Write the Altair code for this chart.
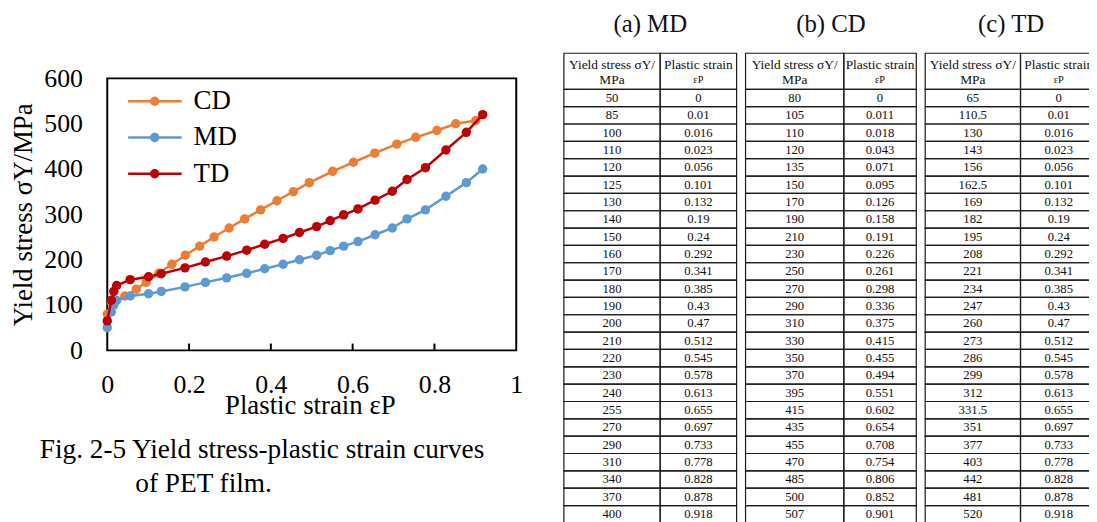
import altair as alt
import pandas as pd

# ---------------- data ----------------
SERIES = ["CD", "MD", "TD"]
COLORS = ["#ED7D31", "#5B9BD5", "#C00000"]

MD_STRESS = [50, 85, 100, 110, 120, 125, 130, 140, 150, 160, 170, 180, 190, 200,
             210, 220, 230, 240, 255, 270, 290, 310, 340, 370, 400]
MD_STRAIN = [0, 0.01, 0.016, 0.023, 0.056, 0.101, 0.132, 0.19, 0.24, 0.292, 0.341,
             0.385, 0.43, 0.47, 0.512, 0.545, 0.578, 0.613, 0.655, 0.697, 0.733,
             0.778, 0.828, 0.878, 0.918]
CD_STRESS = [80, 105, 110, 120, 135, 150, 170, 190, 210, 230, 250, 270, 290, 310,
             330, 350, 370, 395, 415, 435, 455, 470, 485, 500, 507]
CD_STRAIN = [0, 0.011, 0.018, 0.043, 0.071, 0.095, 0.126, 0.158, 0.191, 0.226, 0.261,
             0.298, 0.336, 0.375, 0.415, 0.455, 0.494, 0.551, 0.602, 0.654, 0.708,
             0.754, 0.806, 0.852, 0.901]
TD_STRESS = [65, 110.5, 130, 143, 156, 162.5, 169, 182, 195, 208, 221, 234, 247, 260,
             273, 286, 299, 312, 331.5, 351, 377, 403, 442, 481, 520]
TD_STRAIN = [0, 0.01, 0.016, 0.023, 0.056, 0.101, 0.132, 0.19, 0.24, 0.292, 0.341,
             0.385, 0.43, 0.47, 0.512, 0.545, 0.578, 0.613, 0.655, 0.697, 0.733,
             0.778, 0.828, 0.878, 0.918]

X_TICKS = [0, 0.2, 0.4, 0.6, 0.8, 1]
Y_TICKS = [0, 100, 200, 300, 400, 500, 600]
INNER_TICKS = [0.2, 0.4, 0.6, 0.8]

TABLE_TITLES = ["(a) MD", "(b) CD", "(c) TD"]
HEADER_LEFT = ["Yield stress σY/", "MPa"]
HEADER_RIGHT = ["Plastic strain", "εP"]

X_TITLE = "Plastic strain εP"
Y_TITLE = "Yield stress σY/MPa"
INDENT = "\u200b" + "\u00a0" * 14
CAPTION = ["Fig. 2-5 Yield stress-plastic strain curves",
           INDENT + "of PET film."]

# ---------------- layout constants (px) ----------------
FONT = "Liberation Serif"
PAGE = 8
PLOT_LEFT, PLOT_TOP = 108, 77
PLOT_W, PLOT_H = 412, 274
PAD_L, PAD_T = PLOT_LEFT - PAGE, PLOT_TOP - PAGE
PAD_R, PAD_B = 577, 171

TICK_LEN = 15  # in stress units (~7px)

# legend placement (data units)
LEG_X0, LEG_X1, LEG_XC, LEG_XT = 0.051, 0.182, 0.116, 0.211
LEG_Y0, LEG_DY = 549.6, 80.0

# tables
T_LEFT = [568, 751, 932]
T_MID = [665, 850, 1028]
T_RIGHT = [742, 923, 1105]
T_TOP = 51.7
ROW = 17.47
HDR = 2.08
T_TITLE_Y = -1.7
H_LINE1, H_LINE2 = 0.66, 1.52

# ---------------- main chart ----------------
rows = []
for name, xs, ys in [("CD", CD_STRAIN, CD_STRESS), ("MD", MD_STRAIN, MD_STRESS),
                     ("TD", TD_STRAIN, TD_STRESS)]:
    for i, (x, y) in enumerate(zip(xs, ys)):
        rows.append({"series": name, "strain": x, "stress": y, "idx": i})
df = pd.DataFrame(rows)

xsc = alt.Scale(domain=[0, 1], nice=False)
ysc = alt.Scale(domain=[0, 600], nice=False)
csc = alt.Scale(domain=SERIES, range=COLORS)

x_axis = alt.Axis(values=X_TICKS, format="~g", ticks=False, domain=False, grid=False,
                  labelFont=FONT, labelFontSize=26, labelColor="black", labelPadding=21,
                  labelFlush=False, title=X_TITLE, titleFont=FONT, titleFontSize=27,
                  titleFontWeight="normal", titleColor="black",
                  titleBaseline="alphabetic", titleY=64, titleX=PLOT_W / 2 - 2)
y_axis = alt.Axis(values=Y_TICKS, ticks=False, domain=False, grid=False,
                  labelFont=FONT, labelFontSize=26, labelColor="black", labelPadding=25,
                  labelFlush=False, title=Y_TITLE, titleFont=FONT, titleFontSize=27,
                  titleFontWeight="normal", titleColor="black", titleAngle=270,
                  titleBaseline="alphabetic", titleAlign="center",
                  titleX=-76, titleY=PLOT_H / 2)

layers = []
for name in SERIES:
    b = alt.Chart(df).transform_filter(alt.datum.series == name)
    enc = dict(x=alt.X("strain:Q", scale=xsc, axis=x_axis),
               y=alt.Y("stress:Q", scale=ysc, axis=y_axis),
               color=alt.Color("series:N", scale=csc, legend=None))
    layers.append(b.mark_line(strokeWidth=2.5).encode(order="idx:Q", **enc))
    layers.append(b.mark_point(filled=True, size=90, opacity=1).encode(**enc))

# inner tick marks on x axis
tick_df = pd.DataFrame({"v": INNER_TICKS, "y0": [0] * len(INNER_TICKS),
                        "y1": [TICK_LEN] * len(INNER_TICKS)})
ticks = alt.Chart(tick_df).mark_rule(color="black", strokeWidth=2).encode(
    x=alt.X("v:Q", scale=xsc, axis=x_axis),
    y=alt.Y("y0:Q", scale=ysc, axis=y_axis),
    y2="y1:Q",
)

# custom legend
leg_df = pd.DataFrame({
    "series": SERIES,
    "x0": [LEG_X0] * 3, "x1": [LEG_X1] * 3, "xc": [LEG_XC] * 3, "xt": [LEG_XT] * 3,
    "y": [LEG_Y0 - i * LEG_DY for i in range(3)],
})
lb = alt.Chart(leg_df)
leg_line = lb.mark_rule(strokeWidth=2.5).encode(
    x=alt.X("x0:Q", scale=xsc, axis=x_axis), x2="x1:Q",
    y=alt.Y("y:Q", scale=ysc, axis=y_axis),
    color=alt.Color("series:N", scale=csc, legend=None))
leg_pt = lb.mark_point(filled=True, size=90, opacity=1).encode(
    x=alt.X("xc:Q", scale=xsc, axis=x_axis),
    y=alt.Y("y:Q", scale=ysc, axis=y_axis),
    color=alt.Color("series:N", scale=csc, legend=None))
leg_txt = lb.mark_text(font=FONT, fontSize=27, align="left", baseline="middle",
                       color="black").encode(
    x=alt.X("xt:Q", scale=xsc, axis=x_axis),
    y=alt.Y("y:Q", scale=ysc, axis=y_axis),
    text="series:N")

main = alt.layer(*layers, ticks, leg_line, leg_pt, leg_txt)


# ---------------- tables ----------------
def fmt(v):
    return f"{v:g}"


def make_table(k, stress, strain):
    left, mid, right = T_LEFT[k], T_MID[k], T_RIGHT[k]
    split = (mid - left) / (right - left)
    cells = [{"x0": 0, "x1": split, "y0": 0, "y1": HDR},
             {"x0": split, "x1": 1, "y0": 0, "y1": HDR}]
    body = []
    for i, (s, e) in enumerate(zip(stress, strain)):
        y0 = HDR + i
        cells.append({"x0": 0, "x1": split, "y0": y0, "y1": y0 + 1})
        cells.append({"x0": split, "x1": 1, "y0": y0, "y1": y0 + 1})
        body.append({"x": split / 2, "y": y0 + 0.5, "t": fmt(s)})
        body.append({"x": (1 + split) / 2, "y": y0 + 0.5, "t": fmt(e)})
    head = [{"x": split / 2, "y": H_LINE1, "t": HEADER_LEFT[0]},
            {"x": split / 2, "y": H_LINE2, "t": HEADER_LEFT[1]},
            {"x": (1 + split) / 2, "y": H_LINE1, "t": HEADER_RIGHT[0]}]
    small = [{"x": (1 + split) / 2, "y": H_LINE2, "t": HEADER_RIGHT[1]}]
    ttl = [{"x": 0.5, "y": T_TITLE_Y, "t": TABLE_TITLES[k]}]

    txs = alt.Scale(domain=[0, 1], range=[left - PLOT_LEFT, right - PLOT_LEFT], nice=False, zero=False)
    tys = alt.Scale(domain=[0, 1], range=[T_TOP - PLOT_TOP, T_TOP - PLOT_TOP + ROW],
                    nice=False, zero=False)

    rects = alt.Chart(pd.DataFrame(cells)).mark_rect(
        filled=False, stroke="#1a1a1a", strokeWidth=1.2).encode(
        x=alt.X("x0:Q", scale=txs, axis=None), x2="x1:Q",
        y=alt.Y("y0:Q", scale=tys, axis=None), y2="y1:Q")

    def txt(data, size):
        return alt.Chart(pd.DataFrame(data)).mark_text(
            font=FONT, fontSize=size, align="center", baseline="middle",
            color="#111").encode(
            x=alt.X("x:Q", scale=txs, axis=None),
            y=alt.Y("y:Q", scale=tys, axis=None),
            text="t:N")

    return alt.layer(rects, txt(ttl, 25), txt(head, 13.5), txt(small, 10.5), txt(body, 12.8))


tA = make_table(0, MD_STRESS, MD_STRAIN)
tB = make_table(1, CD_STRESS, CD_STRAIN)
tC = make_table(2, TD_STRESS, TD_STRAIN)

chart = alt.layer(main, tA, tB, tC).resolve_scale(
    x="independent", y="independent"
).properties(
    width=PLOT_W, height=PLOT_H,
    autosize=alt.AutoSizeParams(type="none"),
    padding={"left": PAD_L, "top": PAD_T, "right": PAD_R, "bottom": PAD_B},
    title=alt.TitleParams(text=CAPTION, orient="bottom", anchor="start", frame="group",
                          align="left", dx=-68, offset=-66, baseline="alphabetic",
                          font=FONT, fontSize=27.5, fontWeight="normal", color="black",
                          lineHeight=34),
).configure_view(stroke="black", strokeWidth=2)

chart.save("out.html", embed_options={"renderer": "svg", "actions": False})
